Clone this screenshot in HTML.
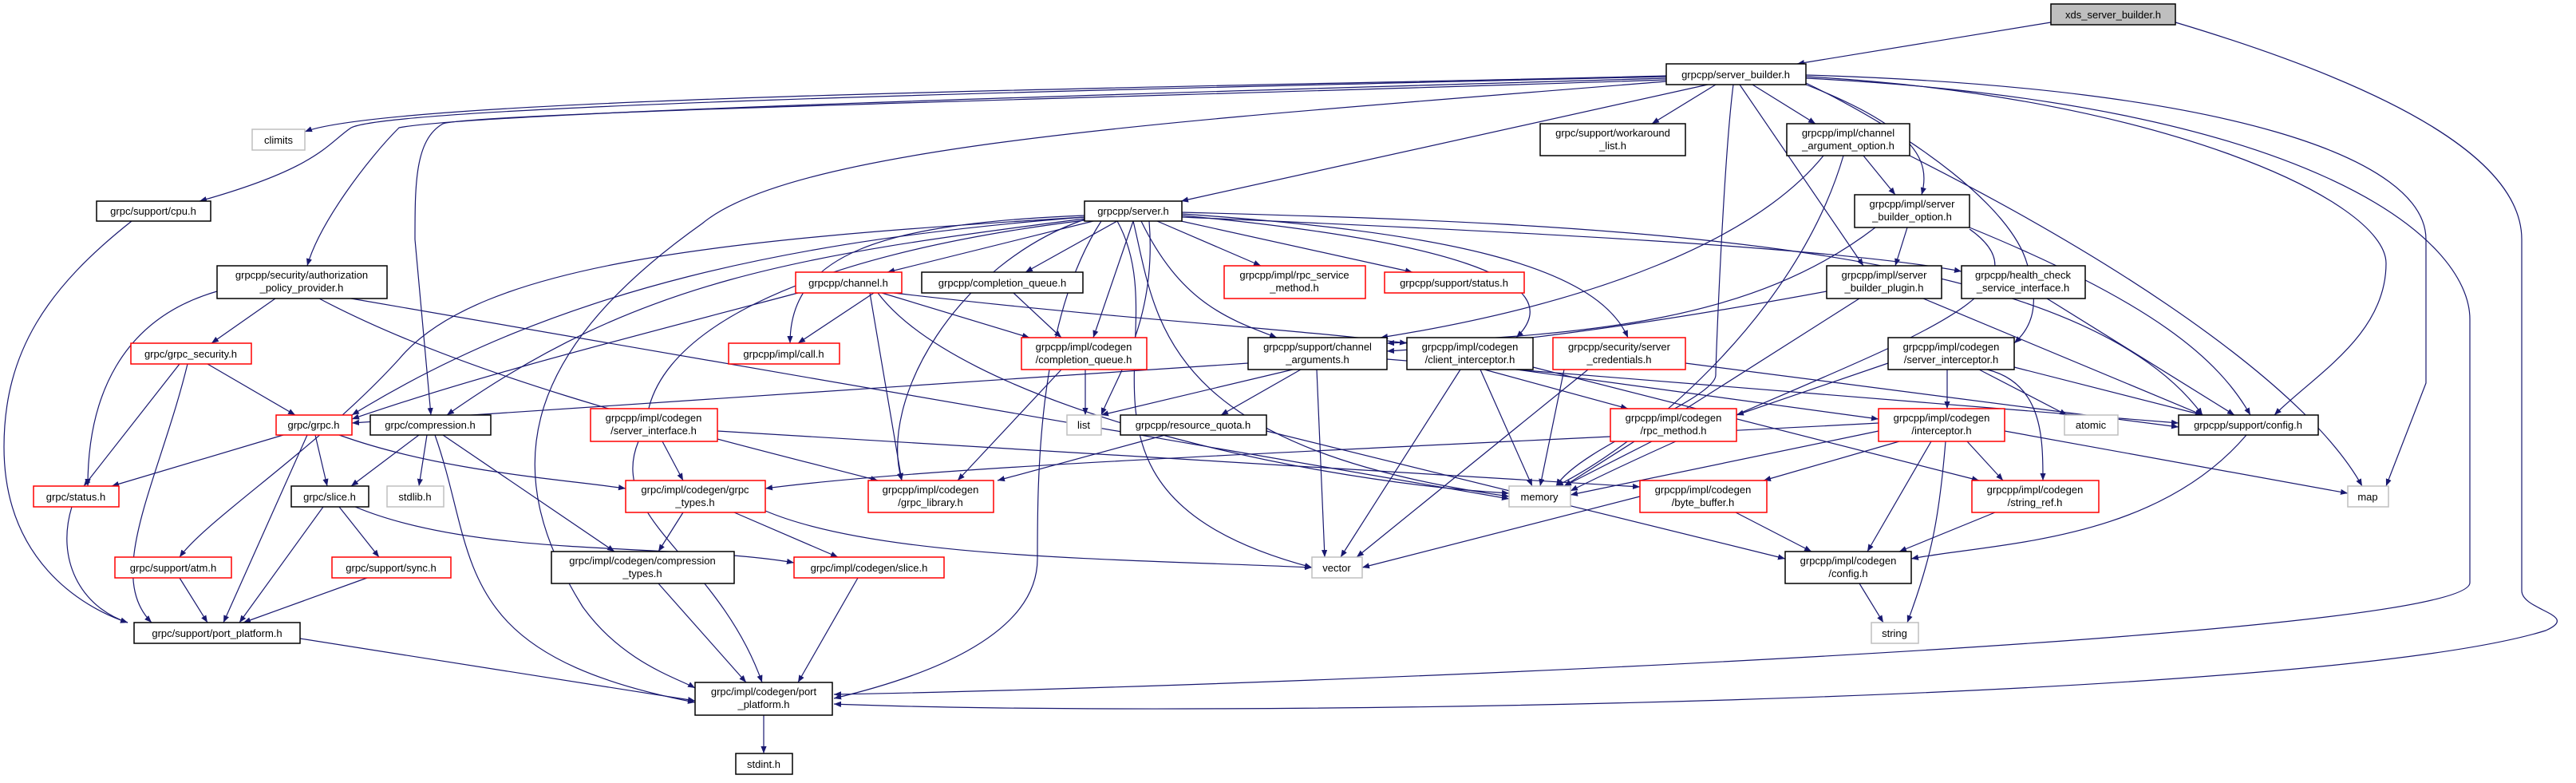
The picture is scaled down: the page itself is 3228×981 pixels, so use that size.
<!DOCTYPE html>
<html><head><meta charset="utf-8"><style>
html,body{margin:0;padding:0;background:#fff}
svg text{font-family:"Liberation Sans",sans-serif;font-size:13px;fill:#000;text-anchor:middle}
</style></head><body>
<svg width="3228" height="976" viewBox="0 0 3228 976" xmlns="http://www.w3.org/2000/svg">
<defs><marker id="a" viewBox="0 0 10 10" refX="10" refY="5" markerWidth="9" markerHeight="9" markerUnits="userSpaceOnUse" orient="auto"><path d="M0,1L10,5L0,9z" fill="#191970"/></marker></defs>
<g fill="none" stroke="#191970" stroke-width="1.2" marker-end="url(#a)">
<path d="M2570,28L2252,80"/>
<path d="M2726,28C3000,110 3160,200 3160,300L3160,740C3160,765 3235,770 3190,790C2900,880 1500,900 1045,882"/>
<path d="M2263,98C2900,130 3095,300 3095,400L3095,730C3095,800 1600,860 1045,870"/>
<path d="M2088,95C1500,110 500,120 382,165"/>
<path d="M2088,96C1500,110 500,130 440,160C410,180 400,210 250,252"/>
<path d="M2088,98C1500,115 600,140 500,160C460,200 400,280 385,333"/>
<path d="M2088,100C1500,120 600,140 555,155C520,175 520,230 520,300L540,520"/>
<path d="M2088,102C1500,150 1000,180 880,280C640,450 630,600 730,760C780,830 850,850 871,862"/>
<path d="M2140,106L1480,252"/>
<path d="M2150,106L2070,155"/>
<path d="M2196,106L2275,155"/>
<path d="M2263,106C2400,160 2420,200 2408,244"/>
<path d="M2180,106L2335,333"/>
<path d="M2172,106C2160,200 2150,450 2150,470C2150,500 1980,560 1950,609"/>
<path d="M2263,104C2400,170 2520,260 2540,330C2560,390 2540,415 2524,430"/>
<path d="M2263,94C2800,110 3040,200 3040,300L3040,480L2990,609"/>
<path d="M2263,96C2700,120 2990,250 2990,330C2990,420 2900,470 2850,520"/>
<path d="M1370,277L1112,341"/>
<path d="M1400,277L1285,341"/>
<path d="M1450,277L1580,333"/>
<path d="M1480,277L1770,341"/>
<path d="M1420,277L1370,423"/>
<path d="M1430,277C1480,380 1540,400 1600,423"/>
<path d="M1481,270C1800,300 1975,350 1900,423"/>
<path d="M1481,268C1800,290 2000,330 2040,423"/>
<path d="M1481,266C2000,280 2600,300 2760,520"/>
<path d="M1481,272C1900,290 2300,310 2458,340"/>
<path d="M1359,270C1100,280 990,320 990,430"/>
<path d="M1359,272C1000,300 700,360 441,520"/>
<path d="M1359,274C1000,320 800,350 560,520"/>
<path d="M1359,276C1000,320 800,420 810,548"/>
<path d="M1359,272C900,300 600,330 500,450C400,560 260,650 225,698"/>
<path d="M1359,275C1200,330 1100,500 1130,602"/>
<path d="M1420,277C1450,400 1450,560 1891,622"/>
<path d="M1440,277C1450,400 1400,470 1380,520"/>
<path d="M1400,277C1480,420 1300,620 1644,711"/>
<path d="M1380,277C1300,400 1300,600 1300,700C1300,800 1150,850 1045,875"/>
<path d="M1095,367L1000,430"/>
<path d="M1105,367L1290,423"/>
<path d="M1120,367C1400,400 1600,410 1763,430"/>
<path d="M1090,367L1130,602"/>
<path d="M1100,367C1200,500 1600,600 1891,618"/>
<path d="M1000,367C800,420 600,470 441,525"/>
<path d="M1270,367L1330,423"/>
<path d="M1360,463L1360,520"/>
<path d="M1330,463L1200,602"/>
<path d="M1564,455L441,530"/>
<path d="M1620,463L1380,520"/>
<path d="M1630,463L1530,520"/>
<path d="M1650,463L1660,698"/>
<path d="M1738,450L2730,530"/>
<path d="M1860,463L2040,512"/>
<path d="M1900,463L2354,525"/>
<path d="M1830,463L1680,698"/>
<path d="M1855,463L1920,609"/>
<path d="M1921,460L2480,602"/>
<path d="M1990,463L1700,698"/>
<path d="M1960,463L1930,609"/>
<path d="M2112,455L2730,535"/>
<path d="M1460,545L1250,602"/>
<path d="M1587,540L2237,700"/>
<path d="M2070,553L1960,609"/>
<path d="M2354,540L1968,620"/>
<path d="M2380,553L2210,602"/>
<path d="M2420,553L2340,691"/>
<path d="M2438,553C2430,650 2420,700 2390,780"/>
<path d="M2465,553L2510,602"/>
<path d="M2512,540L2942,618"/>
<path d="M2354,530C1800,560 1200,580 959,612"/>
<path d="M2055,622L1707,711"/>
<path d="M2175,642L2270,691"/>
<path d="M2500,642L2380,691"/>
<path d="M2815,545C2700,680 2500,680 2395,700"/>
<path d="M2330,731L2360,780"/>
<path d="M2480,463L2590,520"/>
<path d="M2440,463L2440,512"/>
<path d="M2366,455L2176,520"/>
<path d="M2490,463C2560,480 2560,550 2560,602"/>
<path d="M2524,460L2760,520"/>
<path d="M2390,285L2375,333"/>
<path d="M2350,285C2200,400 2000,420 1738,430"/>
<path d="M2468,285C2700,380 2780,450 2820,520"/>
<path d="M2468,287C2600,380 2300,450 1968,615"/>
<path d="M2335,195L2375,244"/>
<path d="M2285,195C2200,300 2000,380 1730,423"/>
<path d="M2393,195C2700,350 2900,500 2960,609"/>
<path d="M2310,195C2250,400 2050,560 1950,609"/>
<path d="M2289,365C2100,400 1900,430 1738,440"/>
<path d="M2410,374L2760,520"/>
<path d="M2330,374L1960,609"/>
<path d="M2565,374L2800,520"/>
<path d="M345,374L265,430"/>
<path d="M272,365C150,400 110,500 110,609"/>
<path d="M440,374L1891,625"/>
<path d="M400,374C600,480 900,550 1100,602"/>
<path d="M260,456L370,520"/>
<path d="M225,456L105,609"/>
<path d="M235,456C200,600 130,720 190,780"/>
<path d="M165,277C60,360 5,440 5,560C5,700 100,760 160,780"/>
<path d="M355,545L140,609"/>
<path d="M395,545L410,609"/>
<path d="M425,545C550,590 700,600 784,612"/>
<path d="M385,545L280,780"/>
<path d="M525,545L440,609"/>
<path d="M535,545L525,609"/>
<path d="M555,545L770,691"/>
<path d="M545,545C600,700 560,820 871,880"/>
<path d="M830,553L856,602"/>
<path d="M800,553C760,650 900,700 955,855"/>
<path d="M899,540L2055,610"/>
<path d="M90,635C70,700 100,760 160,780"/>
<path d="M425,635L475,698"/>
<path d="M405,635L300,780"/>
<path d="M445,635C600,700 850,680 995,705"/>
<path d="M856,642L825,691"/>
<path d="M920,642L1050,698"/>
<path d="M959,640C1100,700 1400,700 1644,711"/>
<path d="M225,724L260,780"/>
<path d="M460,724L305,780"/>
<path d="M825,731L935,855"/>
<path d="M1075,724L1000,855"/>
<path d="M376,800L871,878"/>
<path d="M957,896L957,944"/>
</g>
<g stroke-width="1.5" fill="#fff">
<rect x="2570" y="5" width="156" height="26" fill="#bfbfbf" stroke="#000"/>
<rect x="2088" y="80" width="175" height="26" stroke="#000"/>
<rect x="316" y="162" width="66" height="26" stroke="#bfbfbf"/>
<rect x="1930" y="155" width="182" height="40" stroke="#000"/>
<rect x="2239" y="155" width="154" height="40" stroke="#000"/>
<rect x="121" y="252" width="143" height="25" stroke="#000"/>
<rect x="1359" y="252" width="122" height="25" stroke="#000"/>
<rect x="2324" y="244" width="144" height="41" stroke="#000"/>
<rect x="272" y="333" width="213" height="41" stroke="#000"/>
<rect x="997" y="341" width="133" height="26" stroke="#f00"/>
<rect x="1155" y="341" width="202" height="26" stroke="#000"/>
<rect x="1534" y="333" width="177" height="41" stroke="#f00"/>
<rect x="1735" y="341" width="175" height="26" stroke="#f00"/>
<rect x="2289" y="333" width="144" height="41" stroke="#000"/>
<rect x="2458" y="333" width="155" height="41" stroke="#000"/>
<rect x="164" y="430" width="151" height="26" stroke="#f00"/>
<rect x="913" y="430" width="139" height="26" stroke="#f00"/>
<rect x="1280" y="423" width="157" height="40" stroke="#f00"/>
<rect x="1564" y="423" width="174" height="40" stroke="#000"/>
<rect x="1763" y="423" width="158" height="40" stroke="#000"/>
<rect x="1946" y="423" width="166" height="40" stroke="#f00"/>
<rect x="2366" y="423" width="158" height="40" stroke="#000"/>
<rect x="346" y="520" width="95" height="25" stroke="#f00"/>
<rect x="464" y="520" width="151" height="25" stroke="#000"/>
<rect x="740" y="512" width="159" height="41" stroke="#f00"/>
<rect x="1337" y="520" width="43" height="25" stroke="#bfbfbf"/>
<rect x="1404" y="520" width="183" height="25" stroke="#000"/>
<rect x="2018" y="512" width="158" height="41" stroke="#f00"/>
<rect x="2354" y="512" width="158" height="41" stroke="#f00"/>
<rect x="2587" y="520" width="67" height="25" stroke="#bfbfbf"/>
<rect x="2730" y="520" width="175" height="25" stroke="#000"/>
<rect x="42" y="609" width="107" height="26" stroke="#f00"/>
<rect x="365" y="609" width="97" height="26" stroke="#000"/>
<rect x="485" y="609" width="71" height="26" stroke="#bfbfbf"/>
<rect x="784" y="602" width="175" height="40" stroke="#f00"/>
<rect x="1088" y="602" width="157" height="40" stroke="#f00"/>
<rect x="1891" y="609" width="77" height="26" stroke="#bfbfbf"/>
<rect x="2055" y="602" width="159" height="40" stroke="#f00"/>
<rect x="2471" y="602" width="159" height="40" stroke="#f00"/>
<rect x="2942" y="609" width="51" height="26" stroke="#bfbfbf"/>
<rect x="144" y="698" width="146" height="26" stroke="#f00"/>
<rect x="416" y="698" width="149" height="26" stroke="#f00"/>
<rect x="691" y="691" width="229" height="40" stroke="#000"/>
<rect x="995" y="698" width="188" height="26" stroke="#f00"/>
<rect x="1644" y="698" width="63" height="26" stroke="#bfbfbf"/>
<rect x="2237" y="691" width="158" height="40" stroke="#000"/>
<rect x="168" y="780" width="208" height="26" stroke="#000"/>
<rect x="2345" y="780" width="59" height="26" stroke="#bfbfbf"/>
<rect x="871" y="855" width="172" height="41" stroke="#000"/>
<rect x="922" y="944" width="71" height="26" stroke="#000"/>
</g>
<g>
<text x="2648" y="23">xds_server_builder.h</text>
<text x="2175" y="98">grpcpp/server_builder.h</text>
<text x="349" y="180">climits</text>
<text x="2021" y="171">grpc/support/workaround</text><text x="2021" y="187">_list.h</text>
<text x="2316" y="171">grpcpp/impl/channel</text><text x="2316" y="187">_argument_option.h</text>
<text x="192" y="269">grpc/support/cpu.h</text>
<text x="1420" y="269">grpcpp/server.h</text>
<text x="2396" y="260">grpcpp/impl/server</text><text x="2396" y="276">_builder_option.h</text>
<text x="378" y="349">grpcpp/security/authorization</text><text x="378" y="365">_policy_provider.h</text>
<text x="1063" y="359">grpcpp/channel.h</text>
<text x="1256" y="359">grpcpp/completion_queue.h</text>
<text x="1622" y="349">grpcpp/impl/rpc_service</text><text x="1622" y="365">_method.h</text>
<text x="1822" y="359">grpcpp/support/status.h</text>
<text x="2361" y="349">grpcpp/impl/server</text><text x="2361" y="365">_builder_plugin.h</text>
<text x="2535" y="349">grpcpp/health_check</text><text x="2535" y="365">_service_interface.h</text>
<text x="239" y="448">grpc/grpc_security.h</text>
<text x="982" y="448">grpcpp/impl/call.h</text>
<text x="1358" y="439">grpcpp/impl/codegen</text><text x="1358" y="455">/completion_queue.h</text>
<text x="1651" y="439">grpcpp/support/channel</text><text x="1651" y="455">_arguments.h</text>
<text x="1842" y="439">grpcpp/impl/codegen</text><text x="1842" y="455">/client_interceptor.h</text>
<text x="2029" y="439">grpcpp/security/server</text><text x="2029" y="455">_credentials.h</text>
<text x="2445" y="439">grpcpp/impl/codegen</text><text x="2445" y="455">/server_interceptor.h</text>
<text x="393" y="537">grpc/grpc.h</text>
<text x="539" y="537">grpc/compression.h</text>
<text x="819" y="528">grpcpp/impl/codegen</text><text x="819" y="544">/server_interface.h</text>
<text x="1358" y="537">list</text>
<text x="1495" y="537">grpcpp/resource_quota.h</text>
<text x="2097" y="528">grpcpp/impl/codegen</text><text x="2097" y="544">/rpc_method.h</text>
<text x="2433" y="528">grpcpp/impl/codegen</text><text x="2433" y="544">/interceptor.h</text>
<text x="2620" y="537">atomic</text>
<text x="2817" y="537">grpcpp/support/config.h</text>
<text x="95" y="627">grpc/status.h</text>
<text x="413" y="627">grpc/slice.h</text>
<text x="520" y="627">stdlib.h</text>
<text x="871" y="618">grpc/impl/codegen/grpc</text><text x="871" y="634">_types.h</text>
<text x="1166" y="618">grpcpp/impl/codegen</text><text x="1166" y="634">/grpc_library.h</text>
<text x="1929" y="627">memory</text>
<text x="2134" y="618">grpcpp/impl/codegen</text><text x="2134" y="634">/byte_buffer.h</text>
<text x="2550" y="618">grpcpp/impl/codegen</text><text x="2550" y="634">/string_ref.h</text>
<text x="2967" y="627">map</text>
<text x="217" y="716">grpc/support/atm.h</text>
<text x="490" y="716">grpc/support/sync.h</text>
<text x="805" y="707">grpc/impl/codegen/compression</text><text x="805" y="723">_types.h</text>
<text x="1089" y="716">grpc/impl/codegen/slice.h</text>
<text x="1675" y="716">vector</text>
<text x="2316" y="707">grpcpp/impl/codegen</text><text x="2316" y="723">/config.h</text>
<text x="272" y="798">grpc/support/port_platform.h</text>
<text x="2374" y="798">string</text>
<text x="957" y="871">grpc/impl/codegen/port</text><text x="957" y="887">_platform.h</text>
<text x="957" y="962">stdint.h</text>
</g>
</svg>
</body></html>
